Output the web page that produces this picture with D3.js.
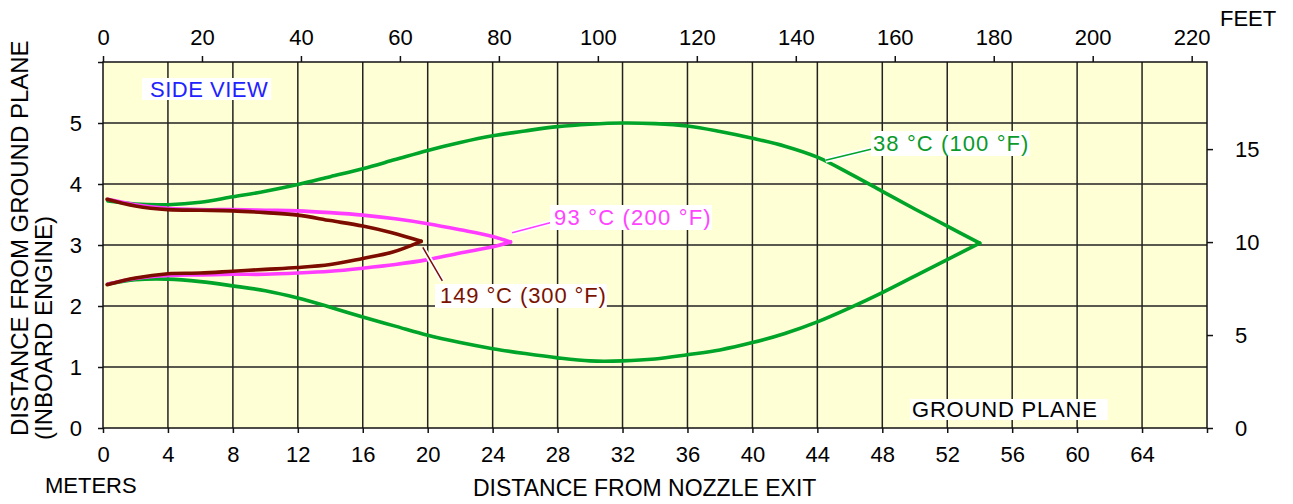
<!DOCTYPE html>
<html>
<head>
<meta charset="utf-8">
<script src="https://cdn.jsdelivr.net/npm/d3@7"></script>
<style>
  body { margin: 0; background: #fff; }
  svg text { font-family: "Liberation Sans", Arial, sans-serif; }
</style>
</head>
<body>
<svg id="chart" width="1293" height="504"></svg>
<script>
// tick labels
const meterTicksX = [0, 4, 8, 12, 16, 20, 24, 28, 32, 36, 40, 44, 48, 52, 56, 60, 64];
const feetTicksTop = [0, 20, 40, 60, 80, 100, 120, 140, 160, 180, 200, 220];
const meterTicksY = [0, 1, 2, 3, 4, 5];
const feetTicksRight = [0, 5, 10, 15];

// isotherm 38 °C (100 °F) - distance (m), height (m)
const green38Upper = [[0.3, 3.72], [2, 3.67], [4, 3.66], [6, 3.70], [8, 3.79], [10, 3.88], [12, 3.99], [14, 4.12],
  [16, 4.25], [18, 4.40], [20, 4.55], [22, 4.68], [24, 4.79], [26, 4.87], [28, 4.94], [30, 4.98], [32, 5.0],
  [34, 4.99], [36, 4.95], [38, 4.86], [40, 4.75], [42, 4.62], [44, 4.44], [46, 4.17], [48, 3.88], [50, 3.59],
  [52, 3.31], [54, 3.03]];
const green38Lower = [[0.3, 2.36], [2, 2.43], [4, 2.44], [6, 2.40], [8, 2.33], [10, 2.25], [12, 2.13], [14, 1.98],
  [16, 1.82], [18, 1.67], [20, 1.52], [22, 1.40], [24, 1.30], [26, 1.22], [28, 1.15], [30, 1.10], [32, 1.10],
  [34, 1.13], [36, 1.20], [38, 1.28], [40, 1.40], [42, 1.55], [44, 1.74], [46, 1.97], [48, 2.22], [50, 2.49],
  [52, 2.76], [54, 3.03]];

// isotherm 93 °C (200 °F)
const magenta93Upper = [[0.3, 3.75], [2, 3.66], [4, 3.60], [6, 3.58], [8, 3.58], [10, 3.57], [12, 3.56], [14, 3.53],
  [16, 3.49], [18, 3.43], [20, 3.35], [22, 3.25], [24, 3.14], [25.1, 3.05]];
const magenta93Lower = [[0.3, 2.36], [2, 2.45], [4, 2.50], [6, 2.51], [8, 2.52], [10, 2.52], [12, 2.54], [14, 2.57],
  [16, 2.62], [18, 2.68], [20, 2.76], [22, 2.87], [24, 2.97], [25.1, 3.05]];

// isotherm 149 °C (300 °F)
const brown149Upper = [[0.25, 3.75], [2, 3.64], [4, 3.58], [6, 3.57], [8, 3.56], [10, 3.53], [12, 3.49], [14, 3.40],
  [16, 3.31], [17.8, 3.20], [19.6, 3.06]];
const brown149Lower = [[0.25, 2.35], [2, 2.46], [4, 2.53], [6, 2.54], [8, 2.57], [10, 2.60], [12, 2.63], [14, 2.68],
  [16, 2.78], [17.8, 2.88], [19.6, 3.06]];

// leader lines (m)
const leader38 = [[44.5, 4.39], [47.3, 4.57]];
const leader93 = [[25.2, 3.20], [27.6, 3.37]];
const leader149 = [[19.7, 2.96], [20.9, 2.41]];

const svg = d3.select("#chart");
const plotLeft = 103, plotRight = 1207, plotTop = 62, plotBottom = 428;
const M_TO_FT = 1 / 0.3048;

const x = d3.scaleLinear().domain([0, 68]).range([plotLeft, plotRight]);
const y = d3.scaleLinear().domain([0, 6]).range([plotBottom, plotTop]);
const xFt = d3.scaleLinear().domain([0, 68 * M_TO_FT]).range([plotLeft, plotRight]);
const yFt = d3.scaleLinear().domain([0, 6 * M_TO_FT]).range([plotBottom, plotTop]);

// fondo
svg.append("rect")
  .attr("x", plotLeft).attr("y", plotTop)
  .attr("width", plotRight - plotLeft).attr("height", plotBottom - plotTop)
  .style("fill", "#ffffd6");

// griglia
const grid = svg.append("g").style("stroke", "#222").style("stroke-width", 1.5);
grid.selectAll(".vx").data(d3.range(4, 68, 4)).enter().append("line")
  .attr("x1", d => x(d)).attr("x2", d => x(d))
  .attr("y1", plotTop).attr("y2", plotBottom);
grid.selectAll(".hy").data([1, 2, 3, 4, 5]).enter().append("line")
  .attr("y1", d => y(d)).attr("y2", d => y(d))
  .attr("x1", plotLeft).attr("x2", plotRight);

svg.append("rect")
  .attr("x", plotLeft).attr("y", plotTop)
  .attr("width", plotRight - plotLeft).attr("height", plotBottom - plotTop)
  .style("fill", "none").style("stroke", "#111").style("stroke-width", 1.5);

// assi
function styleAxis(g) {
  g.select(".domain").remove();
  g.selectAll("line").style("stroke", "#111").style("stroke-width", 1.5);
  g.selectAll("text").style("font-size", "22px").style("fill", "#000")
    .style("font-family", "'Liberation Sans', Arial, sans-serif");
}

svg.append("g").attr("transform", `translate(0,${plotBottom})`)
  .call(d3.axisBottom(x).tickValues(meterTicksX.concat([68])).tickSize(5).tickPadding(13)
    .tickFormat(d => meterTicksX.includes(d) ? d : ""))
  .call(styleAxis);

svg.append("g").attr("transform", `translate(0,${plotTop})`)
  .call(d3.axisTop(xFt).tickValues(feetTicksTop).tickSize(6).tickPadding(11))
  .call(styleAxis);

svg.append("g").attr("transform", `translate(${plotLeft},0)`)
  .call(d3.axisLeft(y).tickValues(meterTicksY.concat([6])).tickSize(5).tickPadding(16)
    .tickFormat(d => meterTicksY.includes(d) ? d : ""))
  .call(styleAxis);

svg.append("g").attr("transform", `translate(${plotRight},0)`)
  .call(d3.axisRight(yFt).tickValues(feetTicksRight).tickSize(6).tickPadding(22))
  .call(styleAxis);

// isoterme
const line = d3.line().x(d => x(d[0])).y(d => y(d[1])).curve(d3.curveCatmullRom);
const isoterme = [
  { data: [green38Upper, green38Lower], color: "#00a428" },
  { data: [magenta93Upper, magenta93Lower], color: "#ff3cff" },
  { data: [brown149Upper, brown149Lower], color: "#7d0c00" }
];
isoterme.forEach(iso => {
  iso.data.forEach(ramo => {
    svg.append("path").datum(ramo)
      .attr("d", line)
      .style("fill", "none")
      .style("stroke", iso.color)
      .style("stroke-width", 3.6)
      .style("stroke-linecap", "round")
      .style("stroke-linejoin", "round");
  });
});

// etichette
const straight = d3.line().x(d => x(d[0])).y(d => y(d[1]));
function leader(pts, color) {
  svg.append("path").datum(pts).attr("d", straight)
    .style("stroke", "#fff").style("stroke-width", 5).style("fill", "none");
  svg.append("path").datum(pts).attr("d", straight)
    .style("stroke", color).style("stroke-width", 1.5).style("fill", "none");
}
function label(txt, tx, ty, color, padL, padR, padT, padB, spacing) {
  let g = svg.append("g");
  let r = g.append("rect").style("fill", "#fff");
  let t = g.append("text").attr("x", tx).attr("y", ty)
    .style("font-size", "22px").style("letter-spacing", spacing + "px")
    .style("fill", color).text(txt);
  let b = t.node().getBBox();
  r.attr("x", b.x - padL).attr("y", b.y - padT)
    .attr("width", b.width + padL + padR).attr("height", b.height + padT + padB);
}

leader(leader38, "#00a428");
leader(leader93, "#ff3cff");
leader(leader149, "#7d0c00");

label("SIDE VIEW", 150, 97, "#2222ff", 8, 3, -1, -2, 0.5);
label("38 °C (100 °F)", 873, 151, "#0a9a2c", 2, 0, 0, 0, 1.1);
label("93 °C (200 °F)", 554, 225, "#ff44ff", 4, 0, 0, 0, 1.2);
label("149 °C (300 °F)", 440, 303, "#7a1200", 5, 0, -1, 0, 0.9);
label("GROUND PLANE", 912, 417, "#000", 2, 10, -2, -2, 0.8);

// titoli
svg.append("text").attr("x", 45).attr("y", 493)
  .style("font-size", "22px").text("METERS");
svg.append("text").attr("x", 1220).attr("y", 26)
  .style("font-size", "22px").text("FEET");
svg.append("text").attr("x", 473).attr("y", 496)
  .style("font-size", "23px").text("DISTANCE FROM NOZZLE EXIT");
svg.append("text").attr("transform", "translate(28,436) rotate(-90)")
  .style("font-size", "24px").text("DISTANCE FROM GROUND PLANE");
svg.append("text").attr("transform", "translate(52,440) rotate(-90)")
  .style("font-size", "24px").text("(INBOARD ENGINE)");
</script>
</body>
</html>
